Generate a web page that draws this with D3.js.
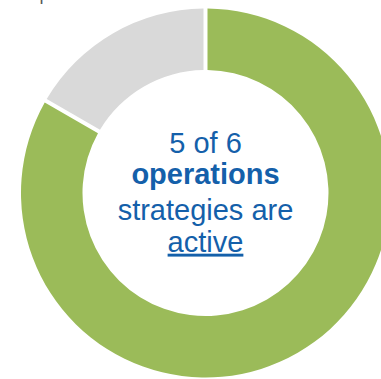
<!DOCTYPE html>
<html>
<head>
<meta charset="utf-8">
<script src="https://cdn.jsdelivr.net/npm/d3@7"></script>
<style>
  html, body { margin: 0; padding: 0; background: #fff; }
  svg { display: block; }
</style>
</head>
<body>
<svg id="chart" width="381" height="379"></svg>
<script>
// Strategy status counts
const categories = ["Active", "Inactive"];
const values = [5, 1];
const colors = ["#9BBB59", "#D9D9D9"];

// Centre caption lines
const captionLines = [
  { text: "5 of 6", weight: "normal", underline: false },
  { text: "operations", weight: "bold", underline: false },
  { text: "strategies are", weight: "normal", underline: false },
  { text: "active", weight: "normal", underline: true }
];

const svg = d3.select("#chart");
const cx = 205.5, cy = 193;
const outerR = 184.5, innerR = 123;

// Descender of the heading text that sits above the chart area
svg.append("text")
  .attr("x", 39.5).attr("y", 0)
  .attr("font-family", "Liberation Sans, Arial, sans-serif")
  .attr("font-size", 18)
  .attr("fill", "#595959")
  .text("p");

const pie = d3.pie().sort(null).value(d => d)(values);

const arc = d3.arc()
  .innerRadius(innerR)
  .outerRadius(outerR)
  .padRadius(100)
  .padAngle(0.04);

const g = svg.append("g").attr("transform", `translate(${cx},${cy})`);

g.selectAll("path")
  .data(pie)
  .join("path")
  .attr("d", arc)
  .attr("fill", (d, i) => colors[i]);

// Centre caption
const baselines = [153.3, 184.3, 220, 251.7];
const label = svg.append("g")
  .attr("font-family", "Liberation Sans, Arial, sans-serif")
  .attr("font-size", 29)
  .attr("fill", "#1460AA")
  .attr("text-anchor", "middle");

label.selectAll("text")
  .data(captionLines)
  .join("text")
  .attr("x", cx)
  .attr("y", (d, i) => baselines[i])
  .attr("font-weight", d => d.weight)
  .attr("text-decoration", d => d.underline ? "underline" : null)
  .text(d => d.text);
</script>
</body>
</html>
